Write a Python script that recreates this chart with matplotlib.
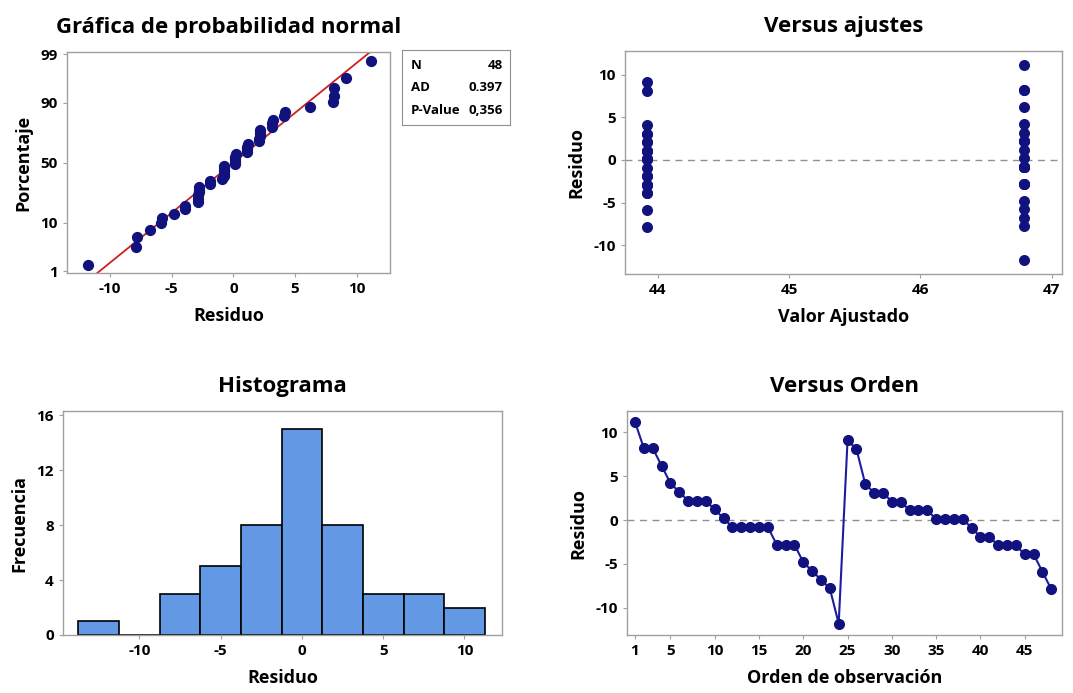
import numpy as np
import matplotlib
matplotlib.use("Agg")
import matplotlib.pyplot as plt
from statistics import NormalDist

# residuos en orden de observacion
residuos = [11.2, 8.2, 8.2, 6.2, 4.2, 3.2, 2.2, 2.2, 2.2, 1.2, 0.2, -0.8,
            -0.8, -0.8, -0.8, -0.8, -2.8, -2.8, -2.8, -4.8, -5.8, -6.8, -7.8, -11.8,
            9.1, 8.1, 4.1, 3.1, 3.1, 2.1, 2.1, 1.1, 1.1, 1.1, 0.1, 0.1,
            0.1, 0.1, -0.9, -1.9, -1.9, -2.9, -2.9, -2.9, -3.9, -3.9, -5.9, -7.9]
# valor ajustado de cada observacion (dos grupos)
ajustes = [46.79] * 24 + [43.92] * 24
orden = list(range(1, len(residuos) + 1))

pct_ticks = [1, 10, 50, 90, 99]
stats_names = ["N", "AD", "P-Value"]
stats_vals = ["48", "0.397", "0,356"]

plt.rcParams['font.family'] = ['Open Sans', 'DejaVu Sans']
plt.rcParams['font.weight'] = 'bold'
plt.rcParams['axes.labelweight'] = 'bold'
plt.rcParams['axes.titleweight'] = 'bold'
plt.rcParams['axes.unicode_minus'] = False

dot_col = '#12127e'
frame_col = '#a0a0a0'

fig = plt.figure(figsize=(10.73, 6.93), dpi=100)
ax1 = fig.add_axes([0.0624, 0.606, 0.301, 0.319])
ax2 = fig.add_axes([0.5825, 0.6046, 0.4073, 0.3218])
ax3 = fig.add_axes([0.0587, 0.0837, 0.409, 0.323])
ax4 = fig.add_axes([0.5843, 0.0837, 0.4054, 0.323])
axs = fig.add_axes([0.3747, 0.8196, 0.1007, 0.108])


def style(ax):
    for s in ax.spines.values():
        s.set_color(frame_col)
        s.set_linewidth(1.0)
    ax.tick_params(colors=frame_col, labelcolor='black', labelsize=11,
                   length=3, width=0.8, direction='out')


# Grafica de probabilidad normal
nd = NormalDist()
r_sorted = np.sort(residuos)
n = len(r_sorted)
z = [nd.inv_cdf((i - 0.3) / (n + 0.4)) for i in range(1, n + 1)]
mu = np.mean(residuos)
sd = np.std(residuos, ddof=1)
zl = np.array([-2.36, 2.37])
ax1.plot(mu + sd * zl, zl, color='#cc2020', lw=1.3, zorder=2)
ax1.scatter(r_sorted, z, s=50, color=dot_col, zorder=3)
ax1.set_ylim(-2.36, 2.37)
ax1.set_xlim(-13.5, 12.7)
ax1.set_xticks([-10, -5, 0, 5, 10])
ax1.set_yticks([nd.inv_cdf(p / 100) for p in pct_ticks])
ax1.set_yticklabels([str(p) for p in pct_ticks])
ax1.set_xlabel("Residuo", fontsize=13, labelpad=8)
ax1.set_ylabel("Porcentaje", fontsize=13, labelpad=6)
ax1.set_title("Gráfica de probabilidad normal", fontsize=16, pad=14)
style(ax1)

# cuadro de estadisticos
axs.set_xticks([])
axs.set_yticks([])
for s in axs.spines.values():
    s.set_color('#909090')
for i, (nm, v) in enumerate(zip(stats_names, stats_vals)):
    yy = 0.8 - i * 0.3
    axs.text(0.08, yy, nm, fontsize=9.5, va='center', ha='left', transform=axs.transAxes)
    axs.text(0.93, yy, v, fontsize=9.5, va='center', ha='right', transform=axs.transAxes)

# Versus ajustes
ax2.scatter(ajustes, residuos, s=48, color=dot_col, zorder=3)
ax2.axhline(0, color='#909090', lw=1, ls=(0, (5, 4)), zorder=1)
ax2.set_xlim(43.75, 47.08)
ax2.set_ylim(-13.4, 12.8)
ax2.set_xticks([44, 45, 46, 47])
ax2.set_yticks([-10, -5, 0, 5, 10])
ax2.set_xlabel("Valor Ajustado", fontsize=13, labelpad=8)
ax2.set_ylabel("Residuo", fontsize=13, labelpad=6)
ax2.set_title("Versus ajustes", fontsize=16, pad=14)
style(ax2)

# Histograma
bins = np.arange(-13.75, 11.3, 2.5)
ax3.hist(residuos, bins=bins, color='#6399e4', edgecolor='black', linewidth=1.2)
ax3.set_xlim(-14.7, 12.3)
ax3.set_ylim(0, 16.3)
ax3.set_xticks([-10, -5, 0, 5, 10])
ax3.set_yticks([0, 4, 8, 12, 16])
ax3.set_xlabel("Residuo", fontsize=13, labelpad=8)
ax3.set_ylabel("Frecuencia", fontsize=13, labelpad=6)
ax3.set_title("Histograma", fontsize=16, pad=14)
style(ax3)

# Versus orden
ax4.plot(orden, residuos, color='#1c1ca0', lw=1.5, marker='o', ms=7,
         mfc=dot_col, mec=dot_col, zorder=3)
ax4.axhline(0, color='#909090', lw=1, ls=(0, (5, 4)), zorder=1)
ax4.set_xlim(0.1, 49.2)
ax4.set_ylim(-13.1, 12.4)
ax4.set_xticks([1, 5, 10, 15, 20, 25, 30, 35, 40, 45])
ax4.set_yticks([-10, -5, 0, 5, 10])
ax4.set_xlabel("Orden de observación", fontsize=13, labelpad=8)
ax4.set_ylabel("Residuo", fontsize=13, labelpad=6)
ax4.set_title("Versus Orden", fontsize=16, pad=14)
style(ax4)

fig.savefig("out.png", dpi=100)
